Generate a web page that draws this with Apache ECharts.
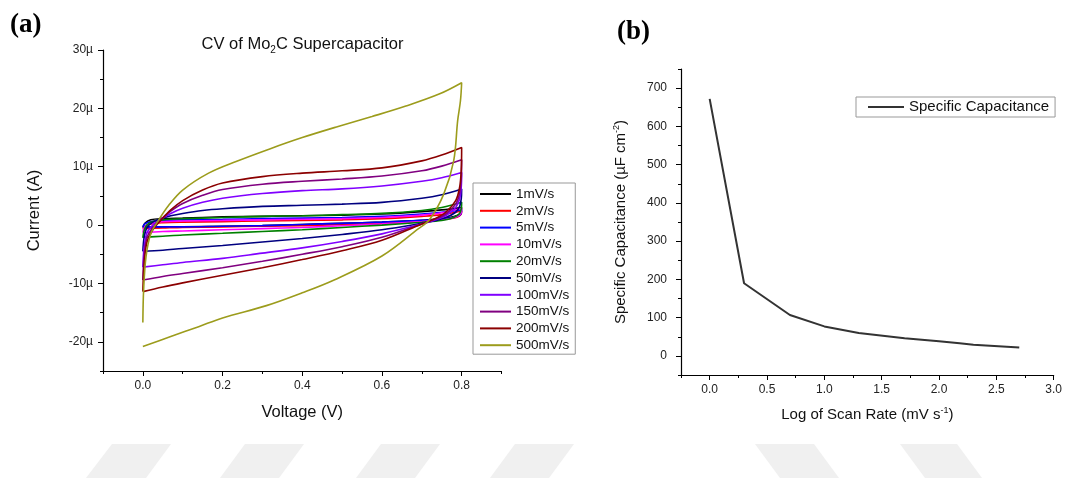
<!DOCTYPE html>
<html><head><meta charset="utf-8">
<script src="https://cdn.jsdelivr.net/npm/echarts@6/dist/echarts.min.js"></script>
<style>html,body{margin:0;padding:0;background:#fff}#c{width:1065px;height:478px}</style>
</head><body><div id="c"></div>
<script>
// ---------- Panel (a) data: CV loops, [voltage V, current µA] ----------
const scanRates = ['1mV/s','2mV/s','5mV/s','10mV/s','20mV/s','50mV/s','100mV/s','150mV/s','200mV/s','500mV/s'];
const cv1 = [[0,-0.4],[0.005,0.3],[0.02,0.9],[0.05,1.1],[0.1,1.2],[0.2,1.4],[0.3,1.5],[0.4,1.6],[0.5,1.7],[0.6,1.9],[0.7,2.3],[0.75,2.6],[0.8,3.0],
  [0.798,2.2],[0.79,1.7],[0.77,1.3],[0.73,1.0],[0.7,0.8],[0.6,0.5],[0.5,0.3],[0.4,0.1],[0.3,-0.1],[0.2,-0.2],[0.1,-0.3],[0.05,-0.35],[0,-0.4]];
const cv2 = [[0,-0.6],[0.005,-0.2],[0.02,0.2],[0.05,0.4],[0.1,0.5],[0.2,0.6],[0.3,0.7],[0.4,0.8],[0.5,0.9],[0.6,1.1],[0.7,1.5],[0.75,1.8],[0.8,2.4],
  [0.798,1.8],[0.79,1.4],[0.77,1.1],[0.73,0.8],[0.7,0.6],[0.6,0.3],[0.5,0.1],[0.4,-0.1],[0.3,-0.2],[0.2,-0.3],[0.1,-0.4],[0.05,-0.5],[0,-0.6]];
const cv5 = [[0,-0.3],[0.005,0.2],[0.02,0.6],[0.05,0.8],[0.1,0.9],[0.2,1.0],[0.3,1.1],[0.4,1.2],[0.5,1.3],[0.6,1.5],[0.7,1.9],[0.75,2.2],[0.8,2.6],
  [0.798,1.9],[0.79,1.5],[0.77,1.2],[0.73,0.9],[0.7,0.8],[0.6,0.5],[0.5,0.3],[0.4,0.1],[0.3,-0.1],[0.2,-0.2],[0.1,-0.3],[0.05,-0.3],[0,-0.3]];
const cv10 = [[0,-1.3],[0.005,-0.3],[0.02,0.3],[0.05,0.6],[0.1,0.7],[0.2,0.8],[0.3,0.9],[0.4,1.0],[0.5,1.1],[0.6,1.3],[0.7,1.7],[0.75,2.1],[0.8,2.9],
  [0.798,2.0],[0.79,1.5],[0.77,1.1],[0.73,0.8],[0.7,0.6],[0.6,0.2],[0.5,-0.1],[0.4,-0.4],[0.3,-0.6],[0.2,-0.8],[0.1,-1.0],[0.05,-1.1],[0,-1.3]];
const cv20 = [[0,-2.2],[0.003,-1.0],[0.01,0.0],[0.025,0.6],[0.05,0.9],[0.1,1.1],[0.2,1.3],[0.3,1.5],[0.4,1.6],[0.5,1.8],[0.6,2.0],[0.7,2.5],[0.75,3.0],[0.785,3.6],[0.8,3.9],
  [0.799,2.8],[0.795,2.0],[0.78,1.3],[0.75,0.8],[0.7,0.5],[0.6,0.0],[0.5,-0.4],[0.4,-0.8],[0.3,-1.1],[0.2,-1.4],[0.1,-1.7],[0.05,-1.9],[0,-2.1]];
const cv50 = [[0,-4.5],[0.003,-2.2],[0.01,-0.5],[0.025,0.5],[0.045,1.1],[0.07,1.6],[0.1,2.0],[0.15,2.5],[0.2,2.8],[0.3,3.2],[0.4,3.4],[0.5,3.6],[0.6,3.9],[0.7,4.6],[0.75,5.2],[0.8,6.2],
  [0.799,4.5],[0.795,3.2],[0.785,2.2],[0.76,1.3],[0.73,0.7],[0.7,0.3],[0.6,-0.8],[0.5,-1.6],[0.4,-2.3],[0.3,-2.9],[0.2,-3.5],[0.1,-4.0],[0.05,-4.3],[0,-4.5]];
const cv100 = [[0,-7.2],[0.003,-4.0],[0.01,-1.4],[0.025,0.0],[0.045,1.0],[0.07,2.0],[0.1,2.9],[0.15,3.9],[0.2,4.6],[0.3,5.4],[0.4,5.9],[0.5,6.2],[0.6,6.7],[0.7,7.5],[0.75,8.1],[0.8,9.0],
  [0.799,6.5],[0.795,4.5],[0.785,3.0],[0.76,1.6],[0.73,0.8],[0.7,0.2],[0.6,-1.5],[0.5,-2.8],[0.4,-3.9],[0.3,-4.8],[0.2,-5.7],[0.1,-6.4],[0.05,-6.8],[0,-7.2]];
const cv150 = [[0,-9.4],[0.003,-5.5],[0.01,-2.2],[0.025,-0.4],[0.045,1.0],[0.07,2.4],[0.1,3.7],[0.15,5.1],[0.2,6.1],[0.3,7.0],[0.4,7.5],[0.5,7.9],[0.6,8.4],[0.7,9.3],[0.75,10.1],[0.8,11.2],
  [0.799,8.0],[0.795,5.5],[0.785,3.6],[0.76,1.9],[0.73,0.9],[0.7,0.2],[0.6,-2.1],[0.5,-3.7],[0.4,-5.0],[0.3,-6.2],[0.2,-7.3],[0.1,-8.3],[0.05,-8.8],[0,-9.4]];
const cv200 = [[0,-11.4],[0.003,-7.0],[0.01,-3.0],[0.025,-0.8],[0.045,0.8],[0.07,2.6],[0.1,4.2],[0.15,6.0],[0.2,7.2],[0.3,8.3],[0.4,8.9],[0.5,9.3],[0.6,9.8],[0.7,11.0],[0.75,12.0],[0.8,13.3],
  [0.799,9.5],[0.795,6.5],[0.785,4.2],[0.76,2.2],[0.73,1.0],[0.7,0.2],[0.6,-2.6],[0.5,-4.4],[0.4,-5.9],[0.3,-7.3],[0.2,-8.6],[0.1,-9.9],[0.05,-10.6],[0,-11.4]];
const cv500 = [[0,-16.7],[0.002,-11.0],[0.008,-5.4],[0.02,-1.5],[0.04,0.9],[0.065,3.4],[0.1,6.0],[0.165,8.9],[0.234,10.9],[0.32,13.1],[0.4,15.0],[0.49,16.9],[0.575,18.6],[0.66,20.4],[0.745,22.5],[0.8,24.4],
  [0.797,21.3],[0.79,17.9],[0.78,11.0],[0.755,5.3],[0.72,1.0],[0.69,-0.7],[0.6,-5.3],[0.48,-9.4],[0.4,-11.6],[0.31,-13.8],[0.2,-15.9],[0.14,-17.4],[0.07,-19.1],[0,-20.8]];
const cvLoops = [cv1, cv2, cv5, cv10, cv20, cv50, cv100, cv150, cv200, cv500];
const cvXTicks = [0, 0.2, 0.4, 0.6, 0.8];
const cvXMinor = [-0.1, 0.1, 0.3, 0.5, 0.7, 0.9];
const cvYTicks = [-20, -10, 0, 10, 20, 30];
const cvYMinor = [-25, -15, -5, 5, 15, 25];

// ---------- Panel (b) data ----------
const logScanRate = [0, 0.30, 0.70, 1.00, 1.30, 1.70, 2.00, 2.18, 2.30, 2.70];
const specCap = [672, 190, 107, 77, 60, 46, 38, 33, 29, 22];
const capXTicks = [0, 0.5, 1.0, 1.5, 2.0, 2.5, 3.0];
const capXMinor = [-0.25, 0.25, 0.75, 1.25, 1.75, 2.25, 2.75];
const capYTicks = [0, 100, 200, 300, 400, 500, 600, 700];
const capYMinor = [-50, 50, 150, 250, 350, 450, 550, 650, 750];

// ---------- styles ----------
const cvColors = ['#000000','#ff0000','#0000ff','#ff00ff','#008000','#000080','#8000ff','#800080','#8b0000','#9c9c1c'];
const FONT = '"Liberation Sans", Arial, sans-serif';

function mainAxis(o) {
  return {
    type: 'value', gridIndex: o.grid, position: o.pos, min: o.min, max: o.max,
    axisLine: { onZero: false, lineStyle: { color: '#000', width: 1.2 } },
    axisTick: { customValues: o.ticks, length: 5, lineStyle: { color: '#000', width: 1 } },
    axisLabel: { customValues: o.ticks, formatter: o.fmt, margin: o.margin, fontSize: 12, color: '#222', fontFamily: FONT },
    splitLine: { show: false },
    name: o.name, nameLocation: 'middle', nameGap: o.nameGap,
    nameTextStyle: Object.assign({ fontSize: o.nameSize, color: '#111', fontFamily: FONT }, o.nameRich ? { rich: o.nameRich } : {})
  };
}
function minorAxis(grid, pos, min, max, ticks) {
  return {
    type: 'value', gridIndex: grid, position: pos, offset: 0, min: min, max: max,
    axisLine: { show: false, onZero: false },
    axisTick: { customValues: ticks, length: 3, lineStyle: { color: '#000', width: 1 } },
    axisLabel: { show: false }, splitLine: { show: false }
  };
}

const series = cvLoops.map((d, i) => ({
  name: scanRates[i], type: 'line', xAxisIndex: 0, yAxisIndex: 0,
  data: d, showSymbol: false, smooth: 0.35,
  lineStyle: { width: 1.6, color: cvColors[i] }, itemStyle: { color: cvColors[i] }
}));
series.push({
  name: 'Specific Capacitance', type: 'line', xAxisIndex: 2, yAxisIndex: 2,
  data: logScanRate.map((x, i) => [x, specCap[i]]), showSymbol: false,
  lineStyle: { width: 2, color: '#333' }, itemStyle: { color: '#333' }
});

const stripes = [
  [[86,478],[112,444],[171,444],[146,478]],
  [[220,478],[245,444],[304,444],[279,478]],
  [[356,478],[381,444],[440,444],[415,478]],
  [[490,478],[515,444],[574,444],[549,478]],
  [[780,478],[755,444],[814,444],[839,478]],
  [[925,478],[900,444],[957,444],[982,478]]
].map(p => ({ type: 'polygon', z: -10, silent: true, shape: { points: p }, style: { fill: '#f0f0f0' } }));

const option = {
  animation: false,
  backgroundColor: '#fff',
  textStyle: { fontFamily: FONT },
  grid: [
    { left: 103, top: 50, width: 398.5, height: 321 },
    { left: 681, top: 69, width: 374.5, height: 306 }
  ],
  xAxis: [
    mainAxis({ grid: 0, pos: 'bottom', min: -0.1, max: 0.9, ticks: cvXTicks, fmt: v => v.toFixed(1), margin: 9,
      name: 'Voltage (V)', nameGap: 33, nameSize: 16.5 }),
    minorAxis(0, 'bottom', -0.1, 0.9, cvXMinor),
    mainAxis({ grid: 1, pos: 'bottom', min: -0.25, max: 3.0, ticks: capXTicks, fmt: v => v.toFixed(1), margin: 9,
      name: 'Log of Scan Rate (mV s{sup|-1})', nameGap: 31, nameSize: 15,
      nameRich: { sup: { fontSize: 9, verticalAlign: 'top', lineHeight: 18, color: '#111' } } }),
    minorAxis(1, 'bottom', -0.25, 3.0, capXMinor)
  ],
  yAxis: [
    mainAxis({ grid: 0, pos: 'left', min: -25, max: 30, ticks: cvYTicks, fmt: v => v === 0 ? '0' : v + 'µ', margin: 10,
      name: 'Current (A)', nameGap: 60, nameSize: 16.5 }),
    minorAxis(0, 'left', -25, 30, cvYMinor),
    mainAxis({ grid: 1, pos: 'left', min: -50, max: 750, ticks: capYTicks, fmt: v => String(v), margin: 14,
      name: 'Specific Capacitance (µF cm{sup|-2})', nameGap: 51, nameSize: 15,
      nameRich: { sup: { fontSize: 9, verticalAlign: 'top', lineHeight: 18, color: '#111' } } }),
    minorAxis(1, 'left', -50, 750, capYMinor)
  ],
  legend: [
    { data: scanRates, orient: 'vertical', left: 473, top: 183, icon: 'rect', itemWidth: 31, itemHeight: 2,
      itemGap: 2.8, padding: [4, 6, 2, 7], borderColor: '#999', borderWidth: 1,
      textStyle: { fontSize: 13.5, lineHeight: 14, color: '#111', fontFamily: FONT }, selectedMode: false },
    { data: ['Specific Capacitance'], left: 856, top: 97, icon: 'rect', itemWidth: 36, itemHeight: 2,
      padding: [2, 6, 2, 12], borderColor: '#999', borderWidth: 1,
      textStyle: { fontSize: 15, lineHeight: 16, color: '#111', fontFamily: FONT }, selectedMode: false }
  ],
  graphic: stripes.concat([
    { type: 'text', left: 10, top: 12, style: { text: '(a)', font: 'bold 27px "Liberation Serif", "Times New Roman", serif', fill: '#000' } },
    { type: 'text', left: 617, top: 19, style: { text: '(b)', font: 'bold 27px "Liberation Serif", "Times New Roman", serif', fill: '#000' } },
    { type: 'text', x: 302.5, y: 44, style: {
        text: 'CV of Mo{sub|2}C Supercapacitor', align: 'center', verticalAlign: 'middle',
        fontSize: 16.5, fontFamily: FONT, fill: '#111',
        rich: { sub: { fontSize: 10, verticalAlign: 'bottom', padding: [13, 0, 0, 0], fill: '#111' } } } }
  ]),
  series: series
};
echarts.init(document.getElementById('c')).setOption(option);
</script></body></html>
